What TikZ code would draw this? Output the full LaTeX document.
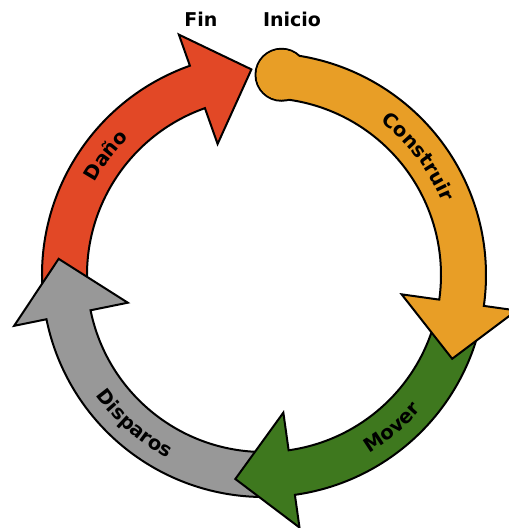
\documentclass[tikz,border=0pt]{standalone}
\usepackage{fontspec}
\setmainfont{DejaVu Sans}
\usetikzlibrary{decorations.text}
\definecolor{cred}{RGB}{226,72,38}
\definecolor{corange}{RGB}{232,158,38}
\definecolor{cgreen}{RGB}{62,120,30}
\definecolor{cgray}{RGB}{152,152,152}
\newcommand\lblfont{\bfseries\fontsize{19.5}{22}\selectfont}
\newcommand\topfont{\bfseries\fontsize{19}{21}\selectfont}
\newcommand\cycarrow[3]{%
  \pgfmathsetmacro\tipang{#2-16}%
  \filldraw[seg, fill=#3] (#1:222pt) arc[start angle=#1, end angle=#2, radius=222pt]
    -- (#2:255pt) -- (\tipang:206pt) -- (#2:139pt) -- (#2:177pt)
    arc[start angle=#2, end angle=#1, radius=177pt] -- cycle;}
\begin{document}
\begin{tikzpicture}[x=1pt,y=1pt,
  seg/.style={draw=black, line width=2pt},
  toplbl/.style={font=\topfont}]
\useasboundingbox (0,0) rectangle (509,528);
\node[toplbl] (fin) at (201,509) {Fin};
\node[toplbl] (inicio) at (292,509) {Inicio};
\begin{scope}[shift={(264,253)}]
  % red
  \cycarrow{187.5}{109.5}{cred}
  % gray
  \cycarrow{274}{191.5}{cgray}
  % green
  \cycarrow{-12}{-82}{cgreen}
  % orange with knob
  \filldraw[seg, fill=corange] (85:201pt) circle[radius=26pt];
  \cycarrow{85}{-8}{corange}
  \fill[corange] (85:201pt) circle[radius=25pt];
  % labels
  \path[decorate, decoration={text along path, text={|\lblfont|Construir}, text align=center}]
    (77.5:192.5pt) arc[start angle=77.5, end angle=-2.5, radius=192.5pt];
  \path[decorate, decoration={text along path, text={|\lblfont|Daño}, text align=center}]
    (183:192.5pt) arc[start angle=183, end angle=103, radius=192.5pt];
  \path[decorate, decoration={text along path, text={|\lblfont|Mover}, text align=center}]
    (-90:207pt) arc[start angle=-90, end angle=-10, radius=207pt];
  \path[decorate, decoration={text along path, text={|\lblfont|Disparos}, text align=center}]
    (-171:207pt) arc[start angle=-171, end angle=-91, radius=207pt];
\end{scope}
\end{tikzpicture}
\end{document}
